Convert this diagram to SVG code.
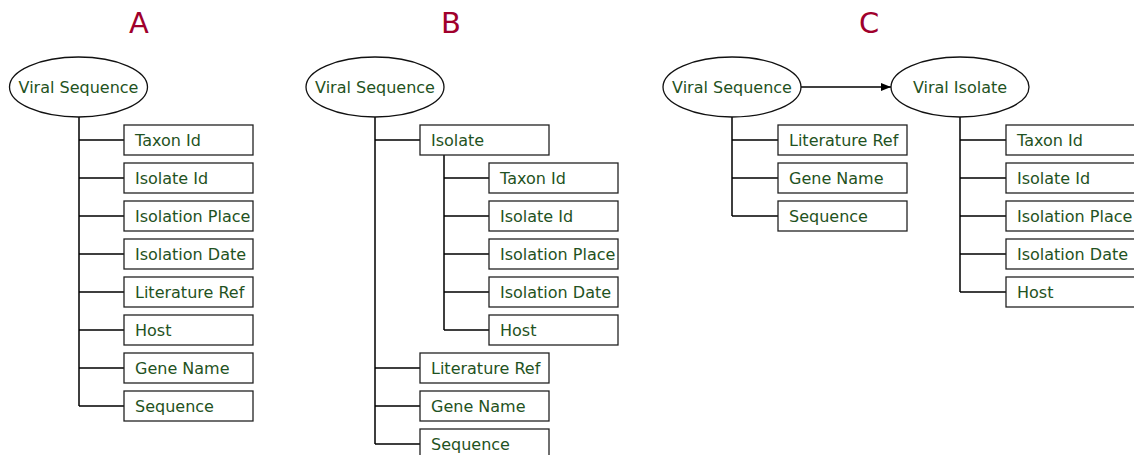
<svg xmlns="http://www.w3.org/2000/svg" width="1134" height="455" viewBox="0 0 1134 455">
  <defs>
    <style>
      .title { font-family: "DejaVu Sans", Verdana, sans-serif; font-size: 29px; fill: #A0002C; text-anchor: middle; }
      .lbl { font-family: "DejaVu Sans", Verdana, sans-serif; font-size: 16px; fill: #1F5222; }
      .mid { text-anchor: middle; }
      .box { fill: #ffffff; stroke: #222222; stroke-width: 1.3; }
      .ell { fill: #ffffff; stroke: #111111; stroke-width: 1.3; }
      .wire { fill: none; stroke: #000000; stroke-width: 1.5; }
    </style>
    <marker id="arrow" viewBox="0 0 10 10" refX="10" refY="5" markerWidth="10" markerHeight="10" markerUnits="userSpaceOnUse" orient="auto">
      <path d="M0,1 L10,5 L0,9 Z" fill="#000000"/>
    </marker>
  </defs>
  <rect width="1134" height="455" fill="#ffffff"/>

  <!-- panel titles -->
  <text class="title" x="139" y="33">A</text>
  <text class="title" x="451" y="33">B</text>
  <text class="title" x="869" y="33">C</text>

  <!-- connectors -->
  <g id="connectors">
    <!-- A: flat record -->
    <path class="wire" d="M79,117 V406 M79,140 H124 M79,178 H124 M79,216 H124 M79,254 H124 M79,292 H124 M79,330 H124 M79,368 H124 M79,406 H124"/>
    <!-- B: nested isolate -->
    <path class="wire" d="M375,117 V444 M375,140 H420 M375,368 H420 M375,406 H420 M375,444 H420"/>
    <path class="wire" d="M444,155 V330 M444,178 H489 M444,216 H489 M444,254 H489 M444,292 H489 M444,330 H489"/>
    <!-- C: sequence references isolate -->
    <path class="wire" d="M801,87 H891" marker-end="url(#arrow)"/>
    <path class="wire" d="M732,117 V216 M732,140 H778 M732,178 H778 M732,216 H778"/>
    <path class="wire" d="M960,117 V292 M960,140 H1006 M960,178 H1006 M960,216 H1006 M960,254 H1006 M960,292 H1006"/>
  </g>

  <!-- A -->
  <g id="a-viral-sequence"><ellipse class="ell" cx="78.5" cy="87" rx="69" ry="30"/><text class="lbl mid" x="78.5" y="93">Viral Sequence</text></g>
  <g id="a-taxon-id"><rect class="box" x="124" y="125" width="129" height="30"/><text class="lbl" x="135" y="146">Taxon Id</text></g>
  <g id="a-isolate-id"><rect class="box" x="124" y="163" width="129" height="30"/><text class="lbl" x="135" y="184">Isolate Id</text></g>
  <g id="a-isolation-place"><rect class="box" x="124" y="201" width="129" height="30"/><text class="lbl" x="135" y="222">Isolation Place</text></g>
  <g id="a-isolation-date"><rect class="box" x="124" y="239" width="129" height="30"/><text class="lbl" x="135" y="260">Isolation Date</text></g>
  <g id="a-literature-ref"><rect class="box" x="124" y="277" width="129" height="30"/><text class="lbl" x="135" y="298">Literature Ref</text></g>
  <g id="a-host"><rect class="box" x="124" y="315" width="129" height="30"/><text class="lbl" x="135" y="336">Host</text></g>
  <g id="a-gene-name"><rect class="box" x="124" y="353" width="129" height="30"/><text class="lbl" x="135" y="374">Gene Name</text></g>
  <g id="a-sequence"><rect class="box" x="124" y="391" width="129" height="30"/><text class="lbl" x="135" y="412">Sequence</text></g>

  <!-- B -->
  <g id="b-viral-sequence"><ellipse class="ell" cx="375" cy="87" rx="69" ry="30"/><text class="lbl mid" x="375" y="93">Viral Sequence</text></g>
  <g id="b-isolate"><rect class="box" x="420" y="125" width="129" height="30"/><text class="lbl" x="431" y="146">Isolate</text></g>
  <g id="b-taxon-id"><rect class="box" x="489" y="163" width="129" height="30"/><text class="lbl" x="500" y="184">Taxon Id</text></g>
  <g id="b-isolate-id"><rect class="box" x="489" y="201" width="129" height="30"/><text class="lbl" x="500" y="222">Isolate Id</text></g>
  <g id="b-isolation-place"><rect class="box" x="489" y="239" width="129" height="30"/><text class="lbl" x="500" y="260">Isolation Place</text></g>
  <g id="b-isolation-date"><rect class="box" x="489" y="277" width="129" height="30"/><text class="lbl" x="500" y="298">Isolation Date</text></g>
  <g id="b-host"><rect class="box" x="489" y="315" width="129" height="30"/><text class="lbl" x="500" y="336">Host</text></g>
  <g id="b-literature-ref"><rect class="box" x="420" y="353" width="129" height="30"/><text class="lbl" x="431" y="374">Literature Ref</text></g>
  <g id="b-gene-name"><rect class="box" x="420" y="391" width="129" height="30"/><text class="lbl" x="431" y="412">Gene Name</text></g>
  <g id="b-sequence"><rect class="box" x="420" y="429" width="129" height="30"/><text class="lbl" x="431" y="450">Sequence</text></g>

  <!-- C -->
  <g id="c-viral-sequence"><ellipse class="ell" cx="732" cy="87" rx="69" ry="30"/><text class="lbl mid" x="732" y="93">Viral Sequence</text></g>
  <g id="c-literature-ref"><rect class="box" x="778" y="125" width="129" height="30"/><text class="lbl" x="789" y="146">Literature Ref</text></g>
  <g id="c-gene-name"><rect class="box" x="778" y="163" width="129" height="30"/><text class="lbl" x="789" y="184">Gene Name</text></g>
  <g id="c-sequence"><rect class="box" x="778" y="201" width="129" height="30"/><text class="lbl" x="789" y="222">Sequence</text></g>
  <g id="c-viral-isolate"><ellipse class="ell" cx="960" cy="87" rx="69" ry="30"/><text class="lbl mid" x="960" y="93">Viral Isolate</text></g>
  <g id="c-taxon-id"><rect class="box" x="1006" y="125" width="129" height="30"/><text class="lbl" x="1017" y="146">Taxon Id</text></g>
  <g id="c-isolate-id"><rect class="box" x="1006" y="163" width="129" height="30"/><text class="lbl" x="1017" y="184">Isolate Id</text></g>
  <g id="c-isolation-place"><rect class="box" x="1006" y="201" width="129" height="30"/><text class="lbl" x="1017" y="222">Isolation Place</text></g>
  <g id="c-isolation-date"><rect class="box" x="1006" y="239" width="129" height="30"/><text class="lbl" x="1017" y="260">Isolation Date</text></g>
  <g id="c-host"><rect class="box" x="1006" y="277" width="129" height="30"/><text class="lbl" x="1017" y="298">Host</text></g>
</svg>
